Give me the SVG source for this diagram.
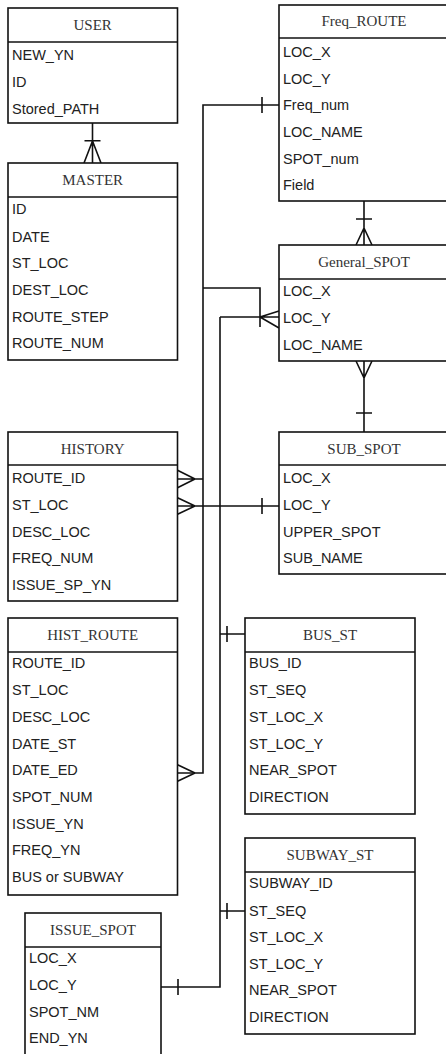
<svg xmlns="http://www.w3.org/2000/svg" width="446" height="1054" viewBox="0 0 446 1054">
<style>
.box{fill:#fff;stroke:#111;stroke-width:1.6}
.sep{stroke:#111;stroke-width:1.6}
.hd{font-family:"Liberation Serif","Times New Roman",serif;font-size:15px;fill:#333;text-anchor:middle}
.rw{font-family:"Liberation Sans",Arial,sans-serif;font-size:14.5px;fill:#222}
.cn{fill:none;stroke:#111;stroke-width:1.6}
</style>
<rect width="446" height="1054" fill="#fff"/>
<g id="connectors">
<!-- USER - MASTER -->
<path class="cn" d="M92.5,123V163M84.5,140.7H100.5M92.5,141L84,163M92.5,141L101,163"/>
<!-- Freq_ROUTE Freq_num trunk -->
<path class="cn" d="M279,105H203V773H177M262,97V113"/>
<!-- HISTORY ROUTE_ID -->
<path class="cn" d="M177,479H203M195,479L177,470M195,479L177,488"/>
<!-- HIST_ROUTE DATE_ED crowfoot -->
<path class="cn" d="M195,773L177,764.5M195,773L177,781.5"/>
<!-- branch to General_SPOT LOC_Y -->
<path class="cn" d="M203,288H260V327M220,317H279M260,317L279,311M260,317L279,328"/>
<!-- second trunk -->
<path class="cn" d="M220,317V987H161M178,979V995"/>
<!-- Freq_ROUTE - General_SPOT -->
<path class="cn" d="M364,201V245M356,219H372M364,228L356,245M364,228L372,245"/>
<!-- General_SPOT - SUB_SPOT -->
<path class="cn" d="M364,361V432M356,413H372M364,378L356,361M364,378L372,361"/>
<!-- HISTORY ST_LOC - SUB_SPOT LOC_Y -->
<path class="cn" d="M177,506H279M195,506L177,497.5M195,506L177,514.5M262,498V514"/>
<!-- BUS_ST -->
<path class="cn" d="M220,634H245M227,626V642"/>
<!-- SUBWAY_ST -->
<path class="cn" d="M220,911H245M227,903V919"/>
</g>
<g id="USER">
<rect class="box" x="8" y="8" width="169.5" height="115"/>
<line class="sep" x1="8" y1="42" x2="177.5" y2="42"/>
<text class="hd" x="92.7" y="30">USER</text>
<text class="rw" x="12" y="60">NEW_YN</text>
<text class="rw" x="12" y="87">ID</text>
<text class="rw" x="12" y="113.5">Stored_PATH</text>
</g>
<g id="MASTER">
<rect class="box" x="8" y="163" width="169.5" height="197"/>
<line class="sep" x1="8" y1="197" x2="177.5" y2="197"/>
<text class="hd" x="92.7" y="185">MASTER</text>
<text class="rw" x="12" y="214">ID</text>
<text class="rw" x="12" y="241.5">DATE</text>
<text class="rw" x="12" y="268">ST_LOC</text>
<text class="rw" x="12" y="295">DEST_LOC</text>
<text class="rw" x="12" y="321.5">ROUTE_STEP</text>
<text class="rw" x="12" y="348">ROUTE_NUM</text>
</g>
<g id="Freq_ROUTE">
<rect class="box" x="279" y="5" width="170" height="196"/>
<line class="sep" x1="279" y1="38" x2="449" y2="38"/>
<text class="hd" x="364" y="26">Freq_ROUTE</text>
<text class="rw" x="283" y="57">LOC_X</text>
<text class="rw" x="283" y="83.5">LOC_Y</text>
<text class="rw" x="283" y="110">Freq_num</text>
<text class="rw" x="283" y="136.5">LOC_NAME</text>
<text class="rw" x="283" y="163.5">SPOT_num</text>
<text class="rw" x="283" y="190">Field</text>
</g>
<g id="General_SPOT">
<rect class="box" x="279" y="245" width="170" height="116"/>
<line class="sep" x1="279" y1="279" x2="449" y2="279"/>
<text class="hd" x="364" y="266.5">General_SPOT</text>
<text class="rw" x="283" y="296">LOC_X</text>
<text class="rw" x="283" y="322.5">LOC_Y</text>
<text class="rw" x="283" y="350">LOC_NAME</text>
</g>
<g id="HISTORY">
<rect class="box" x="8" y="432" width="169.5" height="169"/>
<line class="sep" x1="8" y1="465" x2="177.5" y2="465"/>
<text class="hd" x="92.7" y="453.5">HISTORY</text>
<text class="rw" x="12" y="483">ROUTE_ID</text>
<text class="rw" x="12" y="510">ST_LOC</text>
<text class="rw" x="12" y="536.5">DESC_LOC</text>
<text class="rw" x="12" y="563">FREQ_NUM</text>
<text class="rw" x="12" y="590">ISSUE_SP_YN</text>
</g>
<g id="SUB_SPOT">
<rect class="box" x="279" y="432" width="170" height="142"/>
<line class="sep" x1="279" y1="465" x2="449" y2="465"/>
<text class="hd" x="364" y="453.5">SUB_SPOT</text>
<text class="rw" x="283" y="483">LOC_X</text>
<text class="rw" x="283" y="510">LOC_Y</text>
<text class="rw" x="283" y="536.5">UPPER_SPOT</text>
<text class="rw" x="283" y="563">SUB_NAME</text>
</g>
<g id="HIST_ROUTE">
<rect class="box" x="8" y="618" width="169.5" height="277"/>
<line class="sep" x1="8" y1="652" x2="177.5" y2="652"/>
<text class="hd" x="92.7" y="640">HIST_ROUTE</text>
<text class="rw" x="12" y="668">ROUTE_ID</text>
<text class="rw" x="12" y="695">ST_LOC</text>
<text class="rw" x="12" y="722">DESC_LOC</text>
<text class="rw" x="12" y="748.5">DATE_ST</text>
<text class="rw" x="12" y="775">DATE_ED</text>
<text class="rw" x="12" y="802">SPOT_NUM</text>
<text class="rw" x="12" y="828.5">ISSUE_YN</text>
<text class="rw" x="12" y="855">FREQ_YN</text>
<text class="rw" x="12" y="882">BUS or SUBWAY</text>
</g>
<g id="BUS_ST">
<rect class="box" x="245" y="618" width="170" height="196"/>
<line class="sep" x1="245" y1="652" x2="415" y2="652"/>
<text class="hd" x="330" y="640">BUS_ST</text>
<text class="rw" x="249" y="668">BUS_ID</text>
<text class="rw" x="249" y="695">ST_SEQ</text>
<text class="rw" x="249" y="722">ST_LOC_X</text>
<text class="rw" x="249" y="748.5">ST_LOC_Y</text>
<text class="rw" x="249" y="775">NEAR_SPOT</text>
<text class="rw" x="249" y="802">DIRECTION</text>
</g>
<g id="SUBWAY_ST">
<rect class="box" x="245" y="838" width="170" height="196"/>
<line class="sep" x1="245" y1="872" x2="415" y2="872"/>
<text class="hd" x="330" y="860">SUBWAY_ST</text>
<text class="rw" x="249" y="888">SUBWAY_ID</text>
<text class="rw" x="249" y="915.5">ST_SEQ</text>
<text class="rw" x="249" y="942">ST_LOC_X</text>
<text class="rw" x="249" y="968.5">ST_LOC_Y</text>
<text class="rw" x="249" y="995">NEAR_SPOT</text>
<text class="rw" x="249" y="1022">DIRECTION</text>
</g>
<g id="ISSUE_SPOT">
<rect class="box" x="25" y="913" width="136" height="145"/>
<line class="sep" x1="25" y1="947" x2="161" y2="947"/>
<text class="hd" x="93" y="935">ISSUE_SPOT</text>
<text class="rw" x="29" y="963">LOC_X</text>
<text class="rw" x="29" y="990">LOC_Y</text>
<text class="rw" x="29" y="1017">SPOT_NM</text>
<text class="rw" x="29" y="1043">END_YN</text>
</g>
</svg>
